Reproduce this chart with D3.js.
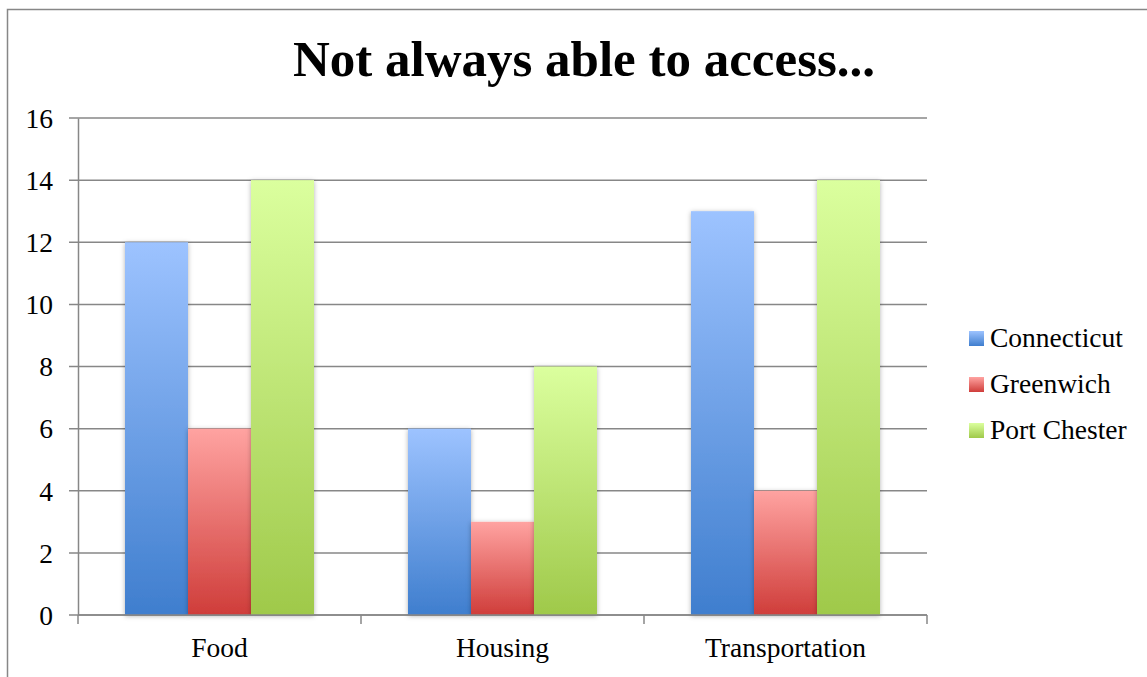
<!DOCTYPE html>
<html><head><meta charset="utf-8">
<script src="https://cdn.jsdelivr.net/npm/d3@7"></script>
<style>body{margin:0;background:#fff}svg{display:block}</style>
</head><body>
<script>
const categories = ["Food", "Housing", "Transportation"];
const seriesNames = ["Connecticut", "Greenwich", "Port Chester"];
const connecticut = [12, 6, 13];
const greenwich = [6, 3, 4];
const portChester = [14, 8, 14];
const yTicks = [0, 2, 4, 6, 8, 10, 12, 14, 16];
const title = "Not always able to access...";

const seriesValues = [connecticut, greenwich, portChester];
const gradStops = [["#9dc3ff", "#3f7ece"], ["#ffa3a1", "#cf3d3a"], ["#dbff9e", "#9fc94a"]];

const W = 1147, H = 677;
const svg = d3.select("body").append("svg").attr("width", W).attr("height", H);
const font = "'Liberation Serif', 'DejaVu Serif', serif";
const fs = 27.5;

const defs = svg.append("defs");
gradStops.forEach((g, i) => {
  const lg = defs.append("linearGradient").attr("id", "g" + i).attr("x1", 0).attr("y1", 0).attr("x2", 0).attr("y2", 1);
  lg.append("stop").attr("offset", "0%").attr("stop-color", g[0]);
  lg.append("stop").attr("offset", "100%").attr("stop-color", g[1]);
});
const f = defs.append("filter").attr("id", "sh").attr("x", "-20%").attr("y", "-5%").attr("width", "140%").attr("height", "112%");
f.append("feDropShadow").attr("dx", 0).attr("dy", 1).attr("stdDeviation", 2.5).attr("flood-color", "#000").attr("flood-opacity", 0.3);

// frame
svg.append("rect").attr("x", 7.5).attr("y", 9.5).attr("width", W).attr("height", H).attr("fill", "none").attr("stroke", "#878787").attr("stroke-width", 1.5);

const plotL = 78, plotR = 927, plotT = 118, plotB = 615;
const x0 = d3.scaleBand().domain(categories).range([plotL, plotR]).padding(0);
const x1 = d3.scaleBand().domain(seriesNames).range([47, 236]).padding(0);
const y = d3.scaleLinear().domain([0, 16]).range([plotB, plotT]);

// gridlines
svg.append("g").selectAll("line").data(yTicks).join("line")
  .attr("x1", plotL - 9).attr("x2", plotR)
  .attr("y1", d => y(d)).attr("y2", d => y(d))
  .attr("stroke", "#878787").attr("stroke-width", 1.5);

// y axis
const yAxis = svg.append("g").attr("transform", `translate(${plotL},0)`)
  .call(d3.axisLeft(y).tickValues(yTicks).tickSize(0).tickPadding(25));
yAxis.select(".domain").attr("stroke", "#878787").attr("stroke-width", 1.5);
yAxis.selectAll("text").style("font-family", font).style("font-size", fs + "px").attr("fill", "#000").attr("dy", "0.34em");

// bars
const groups = svg.append("g").selectAll("g").data(categories).join("g")
  .attr("transform", d => `translate(${x0(d)},0)`);
groups.selectAll("rect").data((c, ci) => seriesNames.map((s, si) => ({s, si, v: seriesValues[si][ci]})))
  .join("rect")
  .attr("x", d => x1(d.s)).attr("width", x1.bandwidth())
  .attr("y", d => y(d.v)).attr("height", d => y(0) - y(d.v))
  .attr("fill", d => `url(#g${d.si})`).attr("filter", "url(#sh)");

// x axis
const xAxis = svg.append("g").attr("transform", `translate(0,${plotB})`);
xAxis.append("line").attr("x1", plotL).attr("x2", plotR).attr("stroke", "#878787").attr("stroke-width", 1.5);
const bounds = [plotL].concat(categories.map(c => x0(c) + x0.bandwidth()));
xAxis.selectAll("line.tk").data(bounds).join("line").attr("class", "tk")
  .attr("x1", d => d).attr("x2", d => d).attr("y1", 0).attr("y2", 9)
  .attr("stroke", "#878787").attr("stroke-width", 1.5);
xAxis.selectAll("text").data(categories).join("text")
  .attr("x", d => x0(d) + x0.bandwidth() / 2).attr("y", 42)
  .attr("text-anchor", "middle").style("font-family", font).style("font-size", fs + "px").attr("fill", "#000")
  .text(d => d);

// title
svg.append("text").attr("x", 584).attr("y", 76).attr("text-anchor", "middle")
  .style("font-family", font).style("font-weight", "bold").style("font-size", "51px").attr("fill", "#000").text(title);

// legend
const leg = svg.append("g").selectAll("g").data(seriesNames).join("g")
  .attr("transform", (d, i) => `translate(969,${331 + i * 46})`);
leg.append("rect").attr("width", 15).attr("height", 15).attr("fill", (d, i) => `url(#g${i})`);
leg.append("text").attr("x", 21).attr("y", 16).style("font-family", font).style("font-size", fs + "px").attr("fill", "#000").text(d => d);
</script>
</body></html>
